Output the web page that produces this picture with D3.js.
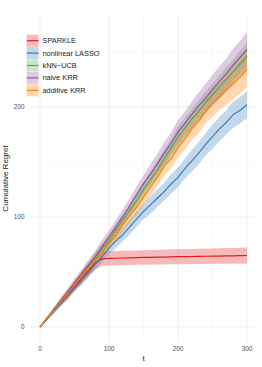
<!DOCTYPE html>
<html><head><meta charset="utf-8">
<script src="https://cdn.jsdelivr.net/npm/d3@7"></script>
<style>body{margin:0;background:#fff}svg{display:block}text{font-family:"Liberation Sans",Arial,sans-serif}</style>
</head><body><svg id="c" width="262" height="367"></svg>
<script>
const tVals = [0,10,20,30,40,50,60,70,80,90,100,110,120,130,140,150,160,170,180,190,200,210,220,230,240,250,260,270,280,290,300];
const seriesNames = ["SPARKLE","nonlinear LASSO","kNN\u2212UCB","naive KRR","additive KRR"];
const seriesColors = ["#E41A1C","#377EB8","#4DAF4A","#984EA3","#FF7F00"];
const sparkle   = [0,7.5,15,22,29,37,44,51,58,62,62.3,62.5,62.7,62.9,63,63.2,63.3,63.5,63.6,63.8,63.9,64,64.1,64.2,64.3,64.4,64.5,64.6,64.7,64.8,65];
const lasso     = [0,7,14,21,28,35,42,49,57,64,72,78,84,91,98,105,111,117,123,130,136,144,151,158,166,173,180,186,193,197,202];
const knn       = [0,8,15,23,31,39,47,55,63,71,79,88,97,106,115,125,134,143,153,163,173,181,189,196,204,211,218,225,232,239,246];
const naive     = [0,8,16,24,32,40,48,56,64,73,82,91,100,110,120,130,139,148,158,167,177,185,193,201,208,216,223,230,238,245,252];
const additive  = [0,8,15,23,30,38,46,53,61,68,76,84,93,101,109,118,127,136,146,153,163,171,180,187,196,203,209,215,221,227,234];
const sparkleW  = [0,1,2,3,4,4,5,5,6,6.5,6.5,6.5,6.5,6.5,6.5,6.6,6.6,6.7,6.7,6.8,6.8,6.9,6.9,7,7,7,7.1,7.1,7.2,7.2,7.3];
const lassoW    = [0,1,2,2,3,3,4,4,5,5,6,6,6,7,7,7,8,8,8,9,9,9,10,10,10,11,11,11,12,12,12];
const knnW      = [0,1,2,2,3,3,4,4,5,5,5,6,6,6,7,7,7,8,8,8,9,9,9,10,10,10,11,11,11,12,12];
const naiveW    = [0,1,2,3,3,4,4,5,5,6,6,6,7,7,8,8,9,9,10,10,11,11,12,12,13,13,14,14,15,15,16];
const additiveW = [0,1,2,3,3,4,4,5,5,5,6,6,6,7,7,7,8,8,8,9,9,10,10,11,11,12,12,13,14,15,16];
const xTicks = [0,100,200,300];
const yTicks = [0,100,200];
const xMinor = [50,150,250];
const yMinor = [50,150,250];

const values = [sparkle,lasso,knn,naive,additive];
const widths = [sparkleW,lassoW,knnW,naiveW,additiveW];

const svg = d3.select("#c");
const x = d3.scaleLinear().domain([-15,315]).range([29.65,257.35]);
const y = d3.scaleLinear().domain([-13.6,283.5]).range([342,15]);

const g = svg.append("g");
g.selectAll(".vmin").data(xMinor).join("line").attr("x1",d=>x(d)).attr("x2",d=>x(d)).attr("y1",15).attr("y2",342).attr("stroke","#f3f3f3").attr("stroke-width",0.5);
g.selectAll(".hmin").data(yMinor).join("line").attr("y1",d=>y(d)).attr("y2",d=>y(d)).attr("x1",29.65).attr("x2",257.35).attr("stroke","#f3f3f3").attr("stroke-width",0.5);
g.selectAll(".vmaj").data(xTicks).join("line").attr("x1",d=>x(d)).attr("x2",d=>x(d)).attr("y1",15).attr("y2",342).attr("stroke","#ebebeb").attr("stroke-width",0.8);
g.selectAll(".hmaj").data(yTicks).join("line").attr("y1",d=>y(d)).attr("y2",d=>y(d)).attr("x1",29.65).attr("x2",257.35).attr("stroke","#ebebeb").attr("stroke-width",0.8);

const area = d3.area().x((d,i)=>x(tVals[i])).y0(d=>y(d[0])).y1(d=>y(d[1]));
const line = d3.line().x((d,i)=>x(tVals[i])).y(d=>y(d));

values.forEach((vals,k)=>{
  const band = vals.map((v,i)=>[v-widths[k][i], v+widths[k][i]]);
  g.append("path").attr("d",area(band)).attr("fill",seriesColors[k]).attr("fill-opacity",0.3);
});
values.forEach((vals,k)=>{
  g.append("path").attr("d",line(vals)).attr("fill","none").attr("stroke",seriesColors[k]).attr("stroke-width",1.2);
});

g.selectAll(".xt").data(xTicks).join("text").attr("x",d=>x(d)).attr("y",351).attr("text-anchor","middle").attr("font-size",6.4).attr("fill","#4d4d4d").text(d=>d);
g.selectAll(".yt").data(yTicks).join("text").attr("x",24.5).attr("y",d=>y(d)+2.2).attr("text-anchor","end").attr("font-size",6.4).attr("fill","#4d4d4d").text(d=>d);
svg.append("text").attr("x",x(150)).attr("y",361).attr("text-anchor","middle").attr("font-size",8).attr("fill","#222").text("t");
svg.append("text").attr("transform","translate(8,178.5) rotate(-90)").attr("text-anchor","middle").attr("font-size",8).attr("fill","#222").text("Cumulative Regret");

const leg = svg.append("g");
seriesNames.forEach((n,k)=>{
  const cy = 40.7 + k*12.4;
  leg.append("rect").attr("x",26.5).attr("y",cy-6).attr("width",12).attr("height",12).attr("fill",seriesColors[k]).attr("fill-opacity",0.3);
  leg.append("line").attr("x1",27).attr("x2",38.5).attr("y1",cy).attr("y2",cy).attr("stroke",seriesColors[k]).attr("stroke-width",1.2);
  leg.append("text").attr("x",42.5).attr("y",cy+2.5).attr("font-size",7.4).attr("fill","#222").text(n);
});
</script></body></html>
